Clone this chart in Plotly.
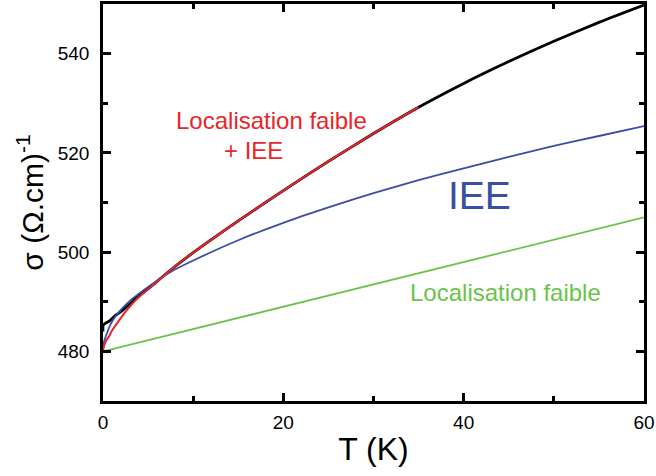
import plotly.graph_objects as go

# Measured conductivity (black)
T_data = [0, 0.02, 0.3, 0.7, 1.0, 1.5, 2.0, 2.5, 3.0, 3.6, 5, 7.5, 10, 15, 20, 25, 30, 35, 40, 45, 50, 55, 60]
sigma_data = [484.0, 485.3, 485.7, 486.1, 486.6, 487.4, 488.0, 488.8, 489.6, 490.6, 492.6, 496.4, 499.9,
              506.3, 512.4, 518.3, 523.9, 529.2, 534.0, 538.4, 542.5, 546.3, 549.8]

# Fit: weak localisation + IEE (red)
T_fit = [0, 0.1, 0.3, 0.66, 1.0, 1.77, 2.5, 3.2, 4, 5, 7.5, 10, 15, 20, 25, 30, 35]
sigma_fit = [480.0, 481.0, 482.0, 483.0, 484.2, 486.2, 488.0, 489.5, 491.0, 492.5, 496.4, 499.9,
             506.3, 512.4, 518.3, 523.9, 529.2]

# IEE contribution (blue)
T_iee = [0, 0.05, 0.3, 1, 2, 3.2, 5, 7.5, 10, 15, 20, 25, 30, 35, 40, 45, 50, 55, 60]
sigma_iee = [480.0, 481.4, 483.0, 486.0, 488.4, 490.5, 493.0, 496.0, 498.3, 502.4, 505.9, 509.0,
             511.9, 514.5, 516.9, 519.2, 521.4, 523.4, 525.4]

# Weak localisation contribution (green)
T_wl = [0, 60]
sigma_wl = [480.0, 507.0]

x_ticks = [0, 20, 40, 60]
y_ticks = [480, 500, 520, 540]

FONT = "Liberation Sans, Arial, sans-serif"
RED = "#e8252b"
BLUE = "#3a4ea3"
GREEN = "#6cc24a"

fig = go.Figure()
fig.add_trace(go.Scatter(x=T_wl, y=sigma_wl, mode="lines", line=dict(color=GREEN, width=1.8)))
fig.add_trace(go.Scatter(x=T_data, y=sigma_data, mode="lines",
                         line=dict(color="black", width=2.8, shape="spline", smoothing=0.5)))
fig.add_trace(go.Scatter(x=T_iee, y=sigma_iee, mode="lines",
                         line=dict(color=BLUE, width=1.8, shape="spline", smoothing=0.5)))
fig.add_trace(go.Scatter(x=T_fit, y=sigma_fit, mode="lines",
                         line=dict(color=RED, width=2.0, shape="spline", smoothing=0.5)))

axis_common = dict(
    showgrid=False, zeroline=False, showline=True, linecolor="black", linewidth=2.5,
    mirror="ticks", ticks="inside", ticklen=8, tickwidth=2.5, tickcolor="black",
    tickfont=dict(family=FONT, size=19, color="black"),
    minor=dict(ticks="inside", ticklen=5, tickwidth=2.5, tickcolor="black", showgrid=False, dtick=10),
)

fig.update_xaxes(range=[0, 60], tickvals=x_ticks, ticktext=[str(v) for v in x_ticks],
                 ticklabelstandoff=2,
                 title=dict(text="T (K)", font=dict(family=FONT, size=32, color="black"), standoff=7),
                 **axis_common)
fig.update_yaxes(range=[470, 550], tickvals=y_ticks, ticktext=[str(v) for v in y_ticks],
                 ticklabelstandoff=7,
                 title=dict(text="σ (Ω.cm)<sup>-1</sup>", font=dict(family=FONT, size=30, color="black"),
                            standoff=6),
                 **axis_common)

L, R, Tm, B = 103, 11, 1, 75
W, H = 656, 476
pw, ph = W - L - R, H - Tm - B

anns = [
    dict(px=272, py=118, text="Localisation faible", color=RED, size=24),
    dict(px=254, py=149, text="+ IEE", color=RED, size=24),
    dict(px=480, py=194, text="IEE", color=BLUE, size=39),
    dict(px=506, py=292, text="Localisation faible", color=GREEN, size=24),
]
for a in anns:
    fig.add_annotation(x=(a["px"] - L) / pw, y=1 - (a["py"] - Tm) / ph, xref="paper", yref="paper",
                       text=a["text"], showarrow=False, xanchor="center", yanchor="middle",
                       font=dict(family=FONT, size=a["size"], color=a["color"]))

fig.update_layout(
    width=W, height=H, margin=dict(l=L, r=R, t=Tm, b=B),
    plot_bgcolor="white", paper_bgcolor="white", showlegend=False,
)

fig.write_html("out.html", config={"displayModeBar": False},
               post_script="document.body.style.margin='0';")
